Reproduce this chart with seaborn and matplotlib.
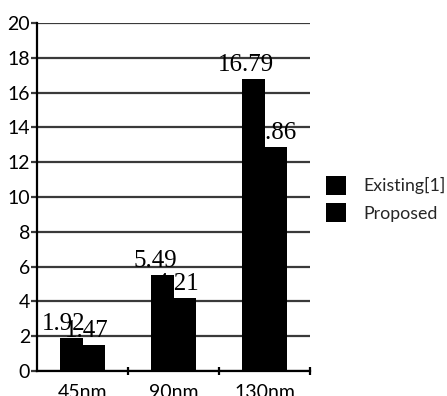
import matplotlib
matplotlib.use("Agg")
import matplotlib.pyplot as plt
import seaborn as sns
import pandas as pd
from matplotlib.ticker import FixedLocator

categories = ["45nm", "90nm", "130nm"]
series_names = ["Existing[1]", "Proposed"]
existing = [1.92, 5.49, 16.79]
proposed = [1.47, 4.21, 12.86]
y_ticks = [0, 2, 4, 6, 8, 10, 12, 14, 16, 18, 20]

df = pd.DataFrame({
    "node": categories * 2,
    "series": [series_names[0]] * 3 + [series_names[1]] * 3,
    "value": existing + proposed,
})

sns.set_style("white")
plt.rcParams["font.family"] = ["Lato", "DejaVu Sans"]

fig = plt.figure(figsize=(4.47, 3.96), dpi=100)
ax = fig.add_axes([37 / 447, 25 / 396, 273 / 447, 348 / 396])

sns.barplot(data=df, x="node", y="value", hue="series", order=categories,
            hue_order=series_names, palette=["black", "black"], width=0.5,
            gap=0, saturation=1, errorbar=None, ax=ax, legend=True,
            edgecolor="none", linewidth=0, zorder=2)

ax.set_ylim(0, 20)
ax.set_xlim(-0.5, 2.5)
ax.set_yticks(y_ticks)
ax.yaxis.grid(True, color="#3a3a3a", linewidth=1.6)
ax.set_axisbelow(True)
ax.set_xlabel("")
ax.set_ylabel("")

for s in ["top", "right"]:
    ax.spines[s].set_visible(False)
for s in ["left", "bottom"]:
    ax.spines[s].set_color("black")
    ax.spines[s].set_linewidth(1.6)

ax.tick_params(axis="y", labelsize=14, length=4, width=1.6, color="#3a3a3a",
               pad=1, left=True, labelcolor="black")
ax.tick_params(axis="x", labelsize=14, length=0, pad=9, labelcolor="black")
ax.xaxis.set_minor_locator(FixedLocator([0.5, 1.5, 2.5]))
ax.tick_params(axis="x", which="minor", direction="inout", length=6, width=1.6,
               color="black", bottom=True)

for cont in ax.containers:
    for bar in cont:
        h = bar.get_height()
        cx = bar.get_x() + bar.get_width() / 2
        ax.annotate(f"{h:.2f}", (cx, h), xytext=(-7, 8), textcoords="offset pixels",
                    ha="center", va="baseline", fontsize=18,
                    family="Liberation Serif", color="black", zorder=1.5)

handles, labels = ax.get_legend_handles_labels()
ax.legend_.remove()
fig.legend(handles, labels, loc="upper left", bbox_to_anchor=(324 / 447, 1 - 174 / 396),
           frameon=False, fontsize=12.8, handlelength=1.16, handleheight=1.27,
           handletextpad=0.95, labelspacing=0.48, borderaxespad=0, borderpad=0.1)

fig.savefig("out.png", dpi=100)
